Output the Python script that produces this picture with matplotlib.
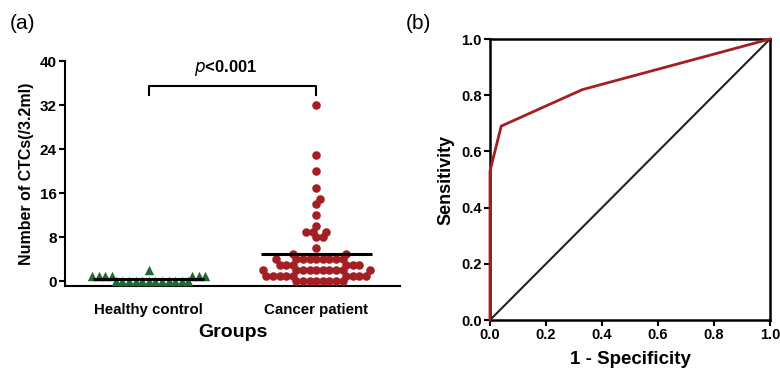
import numpy as np
import matplotlib

matplotlib.use("Agg")

import matplotlib.pyplot as plt

plt.rcParams["font.family"] = ["Liberation Sans", "DejaVu Sans"]

# panel (a): CTC counts per group
GROUPS = ["Healthy control", "Cancer patient"]
HEALTHY = [0] * 12 + [1] * 7 + [2]
CANCER = ([0] * 8 + [1] * 9 + [2] * 10 + [3] * 6 + [4] * 9 + [5] * 2 + [6]
          + [8] * 2 + [9] * 3 + [10, 12, 14, 15, 17, 20, 23, 32])
Y_TICKS = [0, 8, 16, 24, 32, 40]
P_TEXT = "$\\bf{\\it{p}}$<0.001"

# panel (b): ROC curve
FPR = [0.0, 0.0, 0.04, 0.33, 1.0]
TPR = [0.0, 0.53, 0.69, 0.82, 1.0]
ROC_TICKS = [0.0, 0.2, 0.4, 0.6, 0.8, 1.0]

RED = "#a31f24"
GREEN = "#1f6a32"


def swarm(values, center, ax, diameter):
    # simple beeswarm: offsets computed in pixel space
    pts = ax.transData.transform(np.column_stack([np.full(len(values), center), values]))
    ys = pts[:, 1]
    placed = []
    offsets = np.zeros(len(values))
    for i in np.argsort(values, kind="stable"):
        y = ys[i]
        near = [(px, py) for px, py in placed if abs(py - y) < diameter]
        cands = [0.0]
        for px, py in near:
            dx = np.sqrt(diameter ** 2 - (py - y) ** 2)
            cands += [px + dx, px - dx]
        cands.sort(key=abs)
        for c in cands:
            if all((c - px) ** 2 + (y - py) ** 2 >= diameter ** 2 - 1e-6 for px, py in near):
                break
        placed.append((c, y))
        offsets[i] = c
    back = ax.transData.inverted().transform(np.column_stack([pts[:, 0] + offsets, ys]))
    return back[:, 0]


fig = plt.figure(figsize=(7.8, 3.68), dpi=100)

# ---- panel (a)
ax = fig.add_axes([0.0833, 0.2228, 0.4295, 0.6114])
ax.set_xlim(0.5, 2.5)
ax.set_ylim(-0.9, 40)
ax.spines["top"].set_visible(False)
ax.spines["right"].set_visible(False)
for s in ("left", "bottom"):
    ax.spines[s].set_linewidth(1.5)

for pos, vals, marker, color, size in [(1, HEALTHY, "^", GREEN, 46), (2, CANCER, "o", RED, 38)]:
    xs = swarm(vals, pos, ax, 6.6)
    ax.scatter(xs, vals, marker=marker, s=size, color=color, linewidths=0, zorder=3)
    ax.hlines(np.mean(vals), pos - 0.33, pos + 0.33, color="black", lw=2.2, zorder=4)

ax.set_xticks([1, 2])
ax.set_xticklabels(GROUPS, fontsize=10.8, fontweight="bold")
ax.tick_params(axis="x", length=0, pad=12)
ax.set_yticks(Y_TICKS)
ax.set_yticklabels([str(t) for t in Y_TICKS], fontsize=11, fontweight="bold")
ax.tick_params(axis="y", length=4, width=1.5, pad=2)
ax.set_ylabel("Number of CTCs(/3.2ml)", fontsize=11.5, fontweight="bold", labelpad=4)
ax.set_xlabel("Groups", fontsize=14, fontweight="bold", labelpad=5)

# significance bracket
ax.plot([1, 1, 2, 2], [33.8, 35.5, 35.5, 33.8], color="black", lw=1.5, clip_on=False)
ax.text(1.46, 37.0, P_TEXT, ha="center", va="bottom", fontsize=12, fontweight="bold")

# ---- panel (b)
bx = fig.add_axes([0.6282, 0.1304, 0.359, 0.7636])
bx.set_xlim(0, 1)
bx.set_ylim(0, 1)
for s in bx.spines.values():
    s.set_linewidth(1.8)
bx.plot([0, 1], [0, 1], color="#222222", lw=1.5, zorder=2)
bx.plot(FPR, TPR, color=RED, lw=2, zorder=3, clip_on=False)
bx.set_xticks(ROC_TICKS)
bx.set_yticks(ROC_TICKS)
bx.set_xticklabels([f"{t:.1f}" for t in ROC_TICKS], fontsize=10.5, fontweight="bold")
bx.set_yticklabels([f"{t:.1f}" for t in ROC_TICKS], fontsize=10.5, fontweight="bold")
bx.tick_params(length=4, width=1.5, pad=2)
bx.set_ylabel("Sensitivity", fontsize=13, fontweight="bold", labelpad=5)
bx.set_xlabel("1 - Specificity", fontsize=13.5, fontweight="bold", labelpad=6)

fig.text(0.013, 0.935, "(a)", fontsize=15, va="center")
fig.text(0.52, 0.935, "(b)", fontsize=15, va="center")

fig.savefig("out.png", dpi=100)
